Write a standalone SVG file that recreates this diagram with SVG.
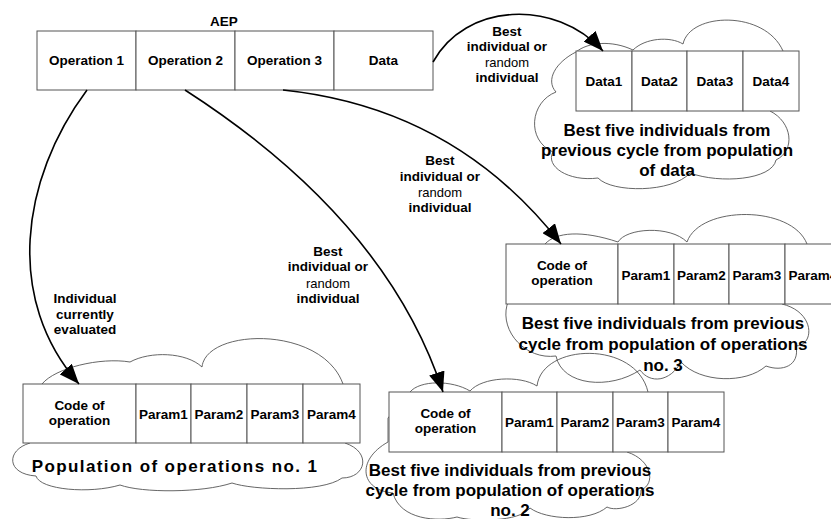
<svg xmlns="http://www.w3.org/2000/svg" width="831" height="519" viewBox="0 0 831 519">
<defs>
<marker id="ah" viewBox="0 0 20 16" refX="20" refY="8" markerWidth="20" markerHeight="16" markerUnits="userSpaceOnUse" orient="auto">
<path d="M0,0 L20,8 L0,16 Z" fill="#000"/>
</marker>
<style>
.cell{fill:#fff;stroke:#555;stroke-width:1}
.cloud{fill:none;stroke:#555;stroke-width:0.9}
.t{font-family:"Liberation Sans",Arial,sans-serif;font-weight:bold;font-size:13.5px;fill:#000;text-anchor:middle}
.r{font-weight:normal;font-size:13px}
.big{font-family:"Liberation Sans",Arial,sans-serif;font-weight:bold;font-size:17px;fill:#000;text-anchor:middle}
.arr{fill:none;stroke:#000;stroke-width:1.6;marker-end:url(#ah)}
</style>
</defs>
<rect width="831" height="519" fill="#fff"/>

<g id="clouds">
<path class="cloud" d="M576,52 C588,42 612,40 633,50 C645,38 670,36 683,44 C690,12 765,10 783,51 L770,111 C792,122 796,150 776,160 C772,180 720,184 690,173 C672,193 612,193 598,178 C568,182 545,166 553,152 C526,140 530,102 556,92 C545,80 556,62 576,52 Z"/>
<path class="cloud" d="M545,244 C556,232 582,230 618,242 C626,228 670,225 687,242 C700,205 792,205 807,244 L782,304 C815,312 815,345 796,346 C800,366 782,372 766,366 C746,384 700,383 681,362 C670,382 650,384 640,370 C610,390 562,386 556,356 C526,360 500,332 507,305 Z"/>
<path class="cloud" d="M410,392 C420,380 452,380 470,391 C482,377 520,375 537,386 C542,343 636,340 648,392 L627,452 C652,460 656,484 641,490 C642,506 616,512 607,507 C590,522 546,520 530,508 C520,522 472,522 457,517 C438,522 400,520 393,493 C360,490 356,460 388,442 L388,418 Z"/>
<path class="cloud" d="M42,384 C55,368 100,357 130,362 C150,351 186,352 202,367 C206,328 322,325 343,384 L345,443 C372,452 366,478 342,478 C322,493 252,490 232,483 C202,493 142,493 120,485 C90,494 40,490 36,476 C6,474 6,450 30,443 Z"/>
</g>

<g id="aep">
<text class="t" x="224" y="26">AEP</text>
<rect class="cell" x="37" y="31" width="99" height="59"/>
<rect class="cell" x="136" y="31" width="99" height="59"/>
<rect class="cell" x="235" y="31" width="99" height="59"/>
<rect class="cell" x="334" y="31" width="99" height="59"/>
<text class="t" x="86.5" y="65">Operation 1</text>
<text class="t" x="185.5" y="65">Operation 2</text>
<text class="t" x="284.5" y="65">Operation 3</text>
<text class="t" x="383.5" y="65">Data</text>
</g>

<g id="data-pop">
<rect class="cell" x="576" y="51" width="56" height="60"/>
<rect class="cell" x="632" y="51" width="55" height="60"/>
<rect class="cell" x="687" y="51" width="56" height="60"/>
<rect class="cell" x="743" y="51" width="56" height="60"/>
<text class="t" x="604" y="86">Data1</text>
<text class="t" x="659.5" y="86">Data2</text>
<text class="t" x="715" y="86">Data3</text>
<text class="t" x="771" y="86">Data4</text>
<text class="big" x="667" y="136">Best five individuals from</text>
<text class="big" x="667" y="156">previous cycle from population</text>
<text class="big" x="667" y="176">of data</text>
</g>

<g id="op3-pop">
<rect class="cell" x="506" y="244" width="112" height="60"/>
<rect class="cell" x="618" y="244" width="56" height="60"/>
<rect class="cell" x="674" y="244" width="55" height="60"/>
<rect class="cell" x="729" y="244" width="56" height="60"/>
<rect class="cell" x="785" y="244" width="56" height="60"/>
<text class="t" x="562" y="270">Code of</text>
<text class="t" x="562" y="285">operation</text>
<text class="t" x="646" y="280">Param1</text>
<text class="t" x="701.5" y="280">Param2</text>
<text class="t" x="757" y="280">Param3</text>
<text class="t" x="813" y="280">Param4</text>
<text class="big" x="663" y="329">Best five individuals from previous</text>
<text class="big" x="663" y="350">cycle from population of operations</text>
<text class="big" x="663" y="371">no. 3</text>
</g>

<g id="op2-pop">
<rect class="cell" x="389" y="392" width="113" height="60"/>
<rect class="cell" x="502" y="392" width="55" height="60"/>
<rect class="cell" x="557" y="392" width="56" height="60"/>
<rect class="cell" x="613" y="392" width="55" height="60"/>
<rect class="cell" x="668" y="392" width="56" height="60"/>
<text class="t" x="445.5" y="418">Code of</text>
<text class="t" x="445.5" y="433">operation</text>
<text class="t" x="529.5" y="427">Param1</text>
<text class="t" x="585" y="427">Param2</text>
<text class="t" x="640.5" y="427">Param3</text>
<text class="t" x="696" y="427">Param4</text>
<text class="big" x="510" y="476">Best five individuals from previous</text>
<text class="big" x="510" y="496">cycle from population of operations</text>
<text class="big" x="510" y="516">no. 2</text>
</g>

<g id="op1-pop">
<rect class="cell" x="23" y="384" width="113" height="59"/>
<rect class="cell" x="136" y="384" width="55" height="59"/>
<rect class="cell" x="191" y="384" width="56" height="59"/>
<rect class="cell" x="247" y="384" width="56" height="59"/>
<rect class="cell" x="303" y="384" width="57" height="59"/>
<text class="t" x="79.5" y="410">Code of</text>
<text class="t" x="79.5" y="425">operation</text>
<text class="t" x="163.5" y="419">Param1</text>
<text class="t" x="219" y="419">Param2</text>
<text class="t" x="275" y="419">Param3</text>
<text class="t" x="331.5" y="419">Param4</text>
<text class="big" x="175" y="472" letter-spacing="1.4">Population of operations no. 1</text>
</g>

<g id="connectors">
<path class="arr" d="M433,62 C465,3 555,-2 603,51"/>
<path class="arr" d="M283,90 Q455,108 561,244"/>
<path class="arr" d="M185,90 C275,148 395,245 443,392"/>
<path class="arr" d="M87,90 C20,180 5,300 79,384"/>
<text class="t" x="507" y="36">Best</text>
<text class="t" x="507" y="51">individual or</text>
<text class="t r" x="507" y="67">random</text>
<text class="t" x="507" y="82">individual</text>
<text class="t" x="440" y="165">Best</text>
<text class="t" x="440" y="181">individual or</text>
<text class="t r" x="440" y="197">random</text>
<text class="t" x="440" y="212">individual</text>
<text class="t" x="328" y="256">Best</text>
<text class="t" x="328" y="271">individual or</text>
<text class="t r" x="328" y="288">random</text>
<text class="t" x="328" y="303">individual</text>
<text class="t" x="85" y="303">Individual</text>
<text class="t" x="85" y="319">currently</text>
<text class="t" x="85" y="334">evaluated</text>
</g>
</svg>
